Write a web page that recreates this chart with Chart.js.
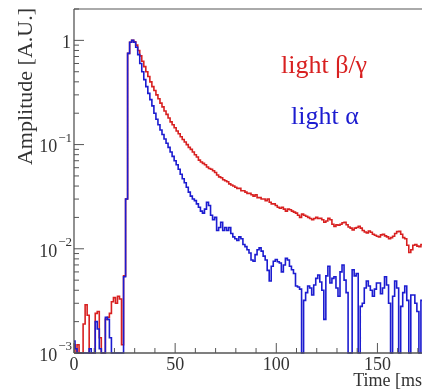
<!DOCTYPE html>
<html>
<head>
<meta charset="utf-8">
<script src="https://cdn.jsdelivr.net/npm/chart.js@4/dist/chart.umd.min.js"></script>
<style>
  html, body { margin:0; padding:0; background:#fff; overflow:hidden; }
  #wrap { width:422px; height:389px; overflow:hidden; position:relative; }
  canvas { display:block; }
</style>
</head>
<body>
<div id="wrap"><canvas id="c" width="450" height="389"></canvas></div>
<script>
// time bins [ms]
const times = [
  0,1,2,3,4,5,6,7,8,9,10,11,12,13,14,15,16,17,18,19,20,21,22,23,24,25,26,27,28,29,
  30,31,32,33,34,35,36,37,38,39,40,41,42,43,44,45,46,47,48,49,50,51,52,53,54,55,56,57,58,59,
  60,61,62,63,64,65,66,67,68,69,70,71,72,73,74,75,76,77,78,79,80,81,82,83,84,85,86,87,88,89,
  90,91,92,93,94,95,96,97,98,99,100,101,102,103,104,105,106,107,108,109,110,111,112,113,114,115,116,117,118,119,
  120,121,122,123,124,125,126,127,128,129,130,131,132,133,134,135,136,137,138,139,140,141,142,143,144,145,146,147,148,149,
  150,151,152,153,154,155,156,157,158,159,160,161,162,163,164,165,166,167,168,169,170,171,172,173,174,175
];
// light beta/gamma pulse (red)
const betaGamma = [
  0.0012,0.001,0.0012,0.001,0.001,0.0019,0.0029,0.0023,0.001,0.001,0.001,0.0024,0.0025,0.0014,0.001,0.001,0.0021,0.0022,0.0024,0.0031,
  0.0034,0.003,0.0035,0.0033,0.0012,0.0055,0.03,0.75,0.96,1.0,
  0.97,0.9,0.8,0.71,0.63,0.56,0.5,0.45,0.4,0.36,0.33,0.3,0.275,0.25,0.23,0.21,0.195,0.18,0.165,0.155,
  0.145,0.135,0.127,0.119,0.112,0.106,0.1,0.094,0.09,0.085,0.08,0.076,0.071,0.068,0.066,0.064,0.061,0.059,0.058,0.056,
  0.054,0.051,0.049,0.048,0.046,0.045,0.044,0.042,0.041,0.04,0.039,0.038,0.038,0.036,0.036,0.035,0.034,0.034,0.033,0.032,
  0.033,0.031,0.031,0.03,0.03,0.029,0.03,0.028,0.027,0.027,0.026,0.025,0.0245,0.025,0.024,0.023,0.024,0.0237,0.023,0.0225,
  0.022,0.021,0.02,0.0215,0.021,0.0205,0.02,0.0195,0.019,0.0195,0.02,0.0195,0.0196,0.019,0.018,0.0185,0.0196,0.019,0.0172,0.0164,
  0.017,0.0168,0.0172,0.0178,0.018,0.017,0.0162,0.0158,0.0152,0.0158,0.016,0.0164,0.0158,0.015,0.0145,0.0142,0.0148,0.0144,0.0138,0.0135,
  0.0132,0.013,0.0136,0.0138,0.0133,0.013,0.0125,0.0128,0.0132,0.014,0.0146,0.0147,0.0138,0.0128,0.0125,0.0108,0.0092,0.0098,0.0108,0.011,
  0.0106,0.0105,0.011,0.0112,0.0108,0.011
];
// light alpha pulse (blue)
const alpha = [
  0.0013,0.0011,0.001,0.001,0.001,0.001,0.001,0.001,0.0011,0.001,0.001,0.002,0.0017,0.0011,0.001,0.001,0.0022,0.0021,0.0014,0.001,
  0.001,0.001,0.001,0.001,0.001,0.0054,0.03,0.75,0.96,1.0,
  0.96,0.86,0.73,0.6,0.5,0.42,0.36,0.31,0.27,0.235,0.2,0.175,0.155,0.138,0.125,0.113,0.103,0.094,0.085,0.077,
  0.07,0.064,0.058,0.052,0.047,0.043,0.039,0.035,0.032,0.03,0.029,0.027,0.025,0.023,0.022,0.024,0.028,0.026,0.021,0.019,
  0.02,0.015,0.016,0.018,0.015,0.016,0.015,0.016,0.014,0.013,0.0125,0.012,0.013,0.0125,0.011,0.0105,0.0098,0.0091,0.0078,0.0076,
  0.0088,0.0098,0.0102,0.0095,0.0085,0.0078,0.0062,0.0049,0.0068,0.0076,0.0079,0.0075,0.0073,0.006,0.007,0.0081,0.0078,0.0068,0.0063,0.0058,
  0.0044,0.0043,0.0041,0.001,0.0032,0.0038,0.0044,0.0042,0.0036,0.0045,0.0052,0.0056,0.0048,0.004,0.0021,0.0055,0.0068,0.0047,0.0052,0.0054,
  0.0042,0.0035,0.006,0.007,0.005,0.0038,0.001,0.001,0.0063,0.0055,0.0058,0.001,0.0028,0.003,0.0042,0.0049,0.0044,0.004,0.0035,0.0041,
  0.0047,0.0047,0.0037,0.0042,0.0054,0.0045,0.003,0.001,0.0035,0.0049,0.0042,0.001,0.0028,0.0038,0.0044,0.0032,0.001,0.0036,0.0036,0.003,
  0.0025,0.001,0.0032,0.0035,0.003,0.0033
];

const xMajor = [0, 50, 100, 150];
const xMajorLabels = ['0', '50', '100', '150'];
const xMinor = [10, 20, 30, 40, 60, 70, 80, 90, 110, 120, 130, 140, 160, 170];
const yMajor = [1, 0.1, 0.01, 0.001];
const yMajorBase = ['1', '10', '10', '10'];
const yMajorExp = ['', '\u22121', '\u22122', '\u22123'];
const yMinor = [0.002,0.003,0.004,0.005,0.006,0.007,0.008,0.009,
                0.02,0.03,0.04,0.05,0.06,0.07,0.08,0.09,
                0.2,0.3,0.4,0.5,0.6,0.7,0.8,0.9,2];

const RED = '#d82020', BLUE = '#1c1cd0';
const SERIF = '"Liberation Serif", "DejaVu Serif", serif';

function pts(vals){ return vals.map((v,i)=>({ x: times[i], y: v })); }

const rootFrame = {
  id: 'rootFrame',
  afterDraw(chart) {
    const { ctx, chartArea: a, scales: { x, y } } = chart;
    const seg = (x1,y1,x2,y2) => { ctx.beginPath(); ctx.moveTo(x1,y1); ctx.lineTo(x2,y2); ctx.stroke(); };
    ctx.save();
    // frame
    ctx.strokeStyle = '#aaaaaa'; ctx.lineWidth = 2;
    seg(a.left, a.top, a.right + 5, a.top);
    ctx.strokeStyle = '#555'; ctx.lineWidth = 1.3;
    seg(a.left, a.top, a.left, a.bottom);
    seg(a.left, a.bottom, a.right + 5, a.bottom);
    // ticks (inside the frame)
    ctx.lineWidth = 1;
    xMajor.forEach(v => { const p = x.getPixelForValue(v); seg(p, a.bottom, p, a.bottom - 10); });
    xMinor.forEach(v => { const p = x.getPixelForValue(v); seg(p, a.bottom, p, a.bottom - 5); });
    yMajor.forEach(v => { const p = y.getPixelForValue(v); seg(a.left, p, a.left + 10, p); });
    yMinor.forEach(v => { const p = y.getPixelForValue(v); seg(a.left, p, a.left + 5, p); });
    // tick labels
    ctx.fillStyle = '#333';
    ctx.font = '18px ' + SERIF;
    ctx.textAlign = 'center'; ctx.textBaseline = 'middle';
    xMajor.forEach((v,i) => ctx.fillText(xMajorLabels[i], x.getPixelForValue(v), a.bottom + 12));
    yMajor.forEach((v,i) => {
      const p = y.getPixelForValue(v);
      ctx.font = '13px ' + SERIF;
      const ew = ctx.measureText(yMajorExp[i]).width;
      ctx.textAlign = 'right';
      ctx.fillText(yMajorExp[i], a.left - 2, p - 6);
      ctx.font = '18px ' + SERIF;
      ctx.fillText(yMajorBase[i], a.left - 3 - ew, p + 3);
    });
    // axis titles
    ctx.font = '18px ' + SERIF;
    ctx.textAlign = 'right'; ctx.textBaseline = 'alphabetic';
    ctx.fillText('Time [ms]', a.right, a.bottom + 33);
    ctx.save();
    ctx.translate(32, a.top - 1);
    ctx.rotate(-Math.PI / 2);
    ctx.font = '22px ' + SERIF;
    ctx.textAlign = 'right';
    ctx.fillText('Amplitude [A.U.]', 0, 0);
    ctx.restore();
    // legend texts
    ctx.font = '26px ' + SERIF;
    ctx.textAlign = 'left';
    ctx.fillStyle = RED;
    ctx.fillText('light \u03B2/\u03B3', 281, 73);
    ctx.fillStyle = BLUE;
    ctx.fillText('light \u03B1', 291, 124);
    ctx.restore();
  }
};

new Chart(document.getElementById('c'), {
  type: 'line',
  data: { datasets: [
    { label: 'light \u03B1', data: pts(alpha), borderColor: BLUE, borderWidth: 1.6, pointRadius: 0, stepped: 'middle', fill: false, clip: 1 },
    { label: 'light \u03B2/\u03B3', data: pts(betaGamma), borderColor: RED, borderWidth: 1.6, pointRadius: 0, stepped: 'middle', fill: false, clip: 1 }
  ]},
  options: {
    responsive: false, animation: false, devicePixelRatio: 1,
    layout: { padding: { left: 74, top: 9, right: 22, bottom: 36 } },
    plugins: { legend: { display: false }, tooltip: { enabled: false } },
    scales: {
      x: { type: 'linear', min: 0, max: 175, display: false },
      y: { type: 'logarithmic', min: 0.001, max: 2, display: false }
    }
  },
  plugins: [rootFrame]
});
</script>
</body>
</html>
